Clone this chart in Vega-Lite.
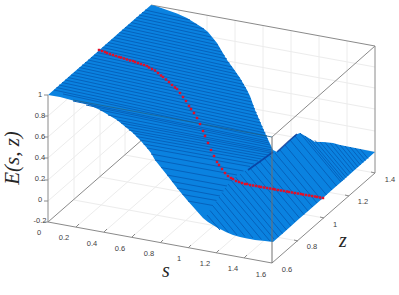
{"$schema":"https://vega.github.io/schema/vega-lite/v6.json","width":399,"height":295,"padding":0,"autosize":{"type":"none"},"background":"white","view":{"stroke":null},
"datasets":{
"grid":[
{"u":76,"v":227,"u2":179,"v2":137},{"u":104,"v":232,"u2":207,"v2":142},{"u":132,"v":237,"u2":235,"v2":147},{"u":160,"v":243,"u2":263,"v2":153},{"u":188,"v":248,"u2":291,"v2":158},{"u":216,"v":253,"u2":319,"v2":163},{"u":244,"v":258,"u2":347,"v2":168},
{"u":74,"v":200,"u2":298,"v2":241},{"u":100,"v":177,"u2":324,"v2":218},{"u":125,"v":155,"u2":349,"v2":196},{"u":151,"v":132,"u2":375,"v2":173},
{"u":74,"v":200,"u2":74,"v2":73},{"u":100,"v":177,"u2":100,"v2":50},{"u":125,"v":155,"u2":125,"v2":28},
{"u":48,"v":201,"u2":151,"v2":111},{"u":48,"v":180,"u2":151,"v2":90},{"u":48,"v":158,"u2":151,"v2":68},{"u":48,"v":137,"u2":151,"v2":47},{"u":48,"v":116,"u2":151,"v2":26},
{"u":179,"v":137,"u2":179,"v2":10},{"u":207,"v":142,"u2":207,"v2":15},{"u":235,"v":147,"u2":235,"v2":20},{"u":263,"v":153,"u2":263,"v2":26},{"u":291,"v":158,"u2":291,"v2":31},{"u":319,"v":163,"u2":319,"v2":36},{"u":347,"v":168,"u2":347,"v2":41},
{"u":151,"v":111,"u2":375,"v2":152},{"u":151,"v":90,"u2":375,"v2":131},{"u":151,"v":68,"u2":375,"v2":109},{"u":151,"v":47,"u2":375,"v2":88},{"u":151,"v":26,"u2":375,"v2":67}
],
"boxback":[
{"u":48,"v":222,"u2":151,"v2":132},{"u":151,"v":5,"u2":375,"v2":46},{"u":375,"v":46,"u2":375,"v2":173},{"u":375,"v":46,"u2":272,"v2":137},{"u":48,"v":95,"u2":48,"v2":222},{"u":48,"v":222,"u2":272,"v2":263},{"u":272,"v":263,"u2":375,"v2":173},
{"u":48,"v":95,"u2":44,"v2":95},{"u":48,"v":116,"u2":44,"v2":116},{"u":48,"v":137,"u2":44,"v2":137},{"u":48,"v":158,"u2":44,"v2":158},{"u":48,"v":180,"u2":44,"v2":180},{"u":48,"v":201,"u2":44,"v2":201},{"u":48,"v":222,"u2":44,"v2":222},
{"u":76,"v":227,"u2":79,"v2":224},{"u":104,"v":232,"u2":107,"v2":229},{"u":132,"v":237,"u2":135,"v2":234},{"u":160,"v":243,"u2":163,"v2":240},{"u":188,"v":248,"u2":191,"v2":245},{"u":216,"v":253,"u2":219,"v2":250},{"u":244,"v":258,"u2":247,"v2":255},
{"u":298,"v":241,"u2":294,"v2":240},{"u":324,"v":218,"u2":320,"v2":217},{"u":349,"v":196,"u2":345,"v2":195},{"u":375,"v":173,"u2":371,"v2":172}
],
"sheet":[
{"u":48,"top":95,"bottom":95},{"u":60,"top":84.5,"bottom":97},{"u":73,"top":73,"bottom":100.5},{"u":87,"top":61,"bottom":104},{"u":100,"top":49.5,"bottom":110},{"u":117,"top":34.5,"bottom":120},{"u":133,"top":20.5,"bottom":133},{"u":140,"top":14.5,"bottom":140},{"u":147,"top":8.5,"bottom":148},{"u":151,"top":5,"bottom":153},{"u":155,"top":5.8,"bottom":160},{"u":167,"top":10,"bottom":175},{"u":177,"top":13.5,"bottom":188},{"u":187,"top":18,"bottom":200},{"u":203,"top":28,"bottom":218},{"u":208,"top":32,"bottom":222},{"u":217,"top":43,"bottom":227.5},{"u":227,"top":60,"bottom":232.5},{"u":233,"top":68,"bottom":235},{"u":240,"top":78,"bottom":237},{"u":247,"top":90,"bottom":238.5},{"u":250,"top":96,"bottom":239},{"u":255,"top":110,"bottom":240},{"u":265,"top":133,"bottom":241},{"u":273,"top":150,"bottom":242},{"u":277,"top":152,"bottom":238.5},{"u":285,"top":145,"bottom":231.4},{"u":295,"top":135,"bottom":222.6},{"u":300,"top":133,"bottom":218},{"u":307,"top":137,"bottom":212},{"u":315,"top":142,"bottom":205},{"u":323,"top":142,"bottom":198},{"u":333,"top":143,"bottom":189},{"u":340,"top":145,"bottom":183},{"u":375,"top":152,"bottom":152}
],
"stripes":[
{"u":145,"v":10,"u2":190,"v2":20},{"u":139,"v":15,"u2":204,"v2":29},{"u":134,"v":20,"u2":211,"v2":37},{"u":128,"v":25,"u2":218,"v2":45},{"u":122,"v":30,"u2":222,"v2":52},{"u":117,"v":35,"u2":227,"v2":59},{"u":111,"v":40,"u2":232,"v2":67},{"u":105,"v":45,"u2":237,"v2":74},{"u":100,"v":50,"u2":242,"v2":81},{"u":94,"v":55,"u2":246,"v2":88},{"u":88,"v":60,"u2":249,"v2":95},{"u":82,"v":65,"u2":252,"v2":102},{"u":77,"v":70,"u2":255,"v2":109},{"u":71,"v":75,"u2":258,"v2":116},{"u":65,"v":80,"u2":261,"v2":123},{"u":59,"v":85,"u2":264,"v2":130},{"u":54,"v":90,"u2":267,"v2":136},{"u":73,"v":101,"u2":268,"v2":141},{"u":100,"v":110,"u2":270,"v2":145},{"u":117,"v":120,"u2":272,"v2":150},{"u":125,"v":126.5,"u2":271,"v2":153},{"u":133,"v":133,"u2":265,"v2":157},{"u":140,"v":140,"u2":258,"v2":161},{"u":147,"v":148,"u2":250,"v2":166.5},{"u":155,"v":160,"u2":237,"v2":175},{"u":167,"v":175,"u2":227,"v2":186},{"u":177,"v":188,"u2":220,"v2":196},{"u":188,"v":201,"u2":213,"v2":205.5},
{"u":142,"v":12.5,"u2":197,"v2":24.5},{"u":136.5,"v":17.5,"u2":207.5,"v2":33},{"u":131,"v":22.5,"u2":214.5,"v2":41},{"u":125,"v":27.5,"u2":220,"v2":48.5},{"u":119.5,"v":32.5,"u2":224.5,"v2":55.5},{"u":114,"v":37.5,"u2":229.5,"v2":63},{"u":108,"v":42.5,"u2":234.5,"v2":70.5},{"u":102.5,"v":47.5,"u2":239.5,"v2":77.5},{"u":97,"v":52.5,"u2":244,"v2":84.5},{"u":91,"v":57.5,"u2":247.5,"v2":91.5},{"u":85,"v":62.5,"u2":250.5,"v2":98.5},{"u":79.5,"v":67.5,"u2":253.5,"v2":105.5},{"u":74,"v":72.5,"u2":256.5,"v2":112.5},{"u":68,"v":77.5,"u2":259.5,"v2":119.5},{"u":62,"v":82.5,"u2":262.5,"v2":126.5},{"u":56.5,"v":87.5,"u2":265.5,"v2":133},{"u":63,"v":94,"u2":267.5,"v2":138.5},{"u":86,"v":105,"u2":269,"v2":143},{"u":108,"v":115,"u2":271,"v2":147.5},{"u":121,"v":123,"u2":271.5,"v2":151.5},{"u":129,"v":130,"u2":268,"v2":155},{"u":136.5,"v":136.5,"u2":261.5,"v2":159},{"u":143.5,"v":144,"u2":254,"v2":164},{"u":151,"v":154,"u2":243.5,"v2":171},{"u":161,"v":167.5,"u2":232,"v2":180.5},{"u":172,"v":181.5,"u2":223.5,"v2":191},{"u":182.5,"v":194.5,"u2":216.5,"v2":200.5},
{"u":280,"v":150,"u2":321,"v2":199.5},{"u":290,"v":140,"u2":332,"v2":190},{"u":300,"v":133,"u2":341,"v2":182},{"u":310,"v":139,"u2":344,"v2":179.5},{"u":320,"v":142,"u2":348,"v2":175.5},{"u":330,"v":143,"u2":353,"v2":171},{"u":340,"v":145,"u2":358,"v2":167},{"u":350,"v":147,"u2":363,"v2":162.5},{"u":360,"v":149,"u2":368,"v2":158.5},{"u":270,"v":156,"u2":312.5,"v2":207},{"u":260,"v":162,"u2":304,"v2":214.5},{"u":250,"v":168,"u2":295,"v2":222},{"u":240,"v":174,"u2":286.5,"v2":230},{"u":231,"v":180,"u2":278.5,"v2":237},{"u":225,"v":188,"u2":270,"v2":241},{"u":219,"v":197,"u2":253,"v2":238},{"u":213,"v":206,"u2":237,"v2":235},{"u":207,"v":215,"u2":220,"v2":230},
{"u":285,"v":145,"u2":326.5,"v2":195},{"u":295,"v":136,"u2":336.5,"v2":186},{"u":305,"v":136,"u2":342.5,"v2":181},{"u":315,"v":140.5,"u2":346,"v2":177.5},{"u":325,"v":142.5,"u2":350.5,"v2":173},{"u":335,"v":144,"u2":355.5,"v2":169},{"u":345,"v":146,"u2":360.5,"v2":165},{"u":355,"v":148,"u2":365.5,"v2":160.5},{"u":275,"v":153,"u2":317,"v2":203},{"u":265,"v":159,"u2":308,"v2":211},{"u":255,"v":165,"u2":299.5,"v2":218},{"u":245,"v":171,"u2":291,"v2":226},{"u":235.5,"v":177,"u2":282.5,"v2":233.5},{"u":228,"v":184,"u2":274,"v2":239},{"u":222,"v":192.5,"u2":261.5,"v2":239.5},{"u":216,"v":201.5,"u2":245,"v2":236.5},{"u":210,"v":210.5,"u2":228.5,"v2":232.5}
],
"crease":[
{"u":273,"v":152,"u2":262,"v2":160},{"u":262,"v":160,"u2":248,"v2":170},{"u":277,"v":152,"u2":290,"v2":140},{"u":290,"v":140,"u2":297,"v2":134}
],
"boxfront":[{"u":73,"v":100,"u2":272,"v2":137}],
"boxvert":[{"u":272,"v":137,"u2":272,"v2":263}],
"curve":[
{"u":99,"v":50},{"u":102,"v":51},{"u":105,"v":52},{"u":107,"v":53},{"u":110,"v":54},{"u":113,"v":55},{"u":116,"v":56},{"u":119,"v":57},{"u":121,"v":57.5},{"u":124,"v":58.5},{"u":127,"v":59.5},{"u":130,"v":60.5},{"u":133,"v":61},{"u":135,"v":62},{"u":138,"v":63},{"u":141,"v":64},{"u":144,"v":65},{"u":147,"v":66},{"u":149,"v":67.5},{"u":152,"v":69},{"u":155,"v":70.5},{"u":158,"v":73},{"u":161,"v":75.5},{"u":163,"v":77},{"u":166,"v":79.5},{"u":169,"v":82},{"u":172,"v":85},{"u":175,"v":87.5},{"u":177,"v":89},{"u":180,"v":93},{"u":183,"v":97},{"u":186,"v":101},{"u":189,"v":106},{"u":191,"v":109},{"u":194,"v":113},{"u":197,"v":118},{"u":200,"v":124},{"u":203,"v":131},{"u":205,"v":136},{"u":208,"v":143},{"u":211,"v":150},{"u":214,"v":156},{"u":217,"v":162},{"u":219,"v":165},{"u":222,"v":169},{"u":225,"v":173},{"u":228,"v":176},{"u":231,"v":178},{"u":233,"v":179},{"u":236,"v":181},{"u":239,"v":182},{"u":242,"v":183},{"u":245,"v":184},{"u":247,"v":184},{"u":250,"v":185},{"u":253,"v":185.5},{"u":256,"v":186},{"u":259,"v":186.5},{"u":261,"v":187},{"u":264,"v":187.5},{"u":267,"v":188},{"u":270,"v":188.5},{"u":273,"v":189},{"u":275,"v":189.5},{"u":278,"v":190},{"u":281,"v":190.5},{"u":284,"v":191},{"u":287,"v":191.5},{"u":289,"v":192},{"u":292,"v":192.5},{"u":295,"v":193},{"u":298,"v":193.5},{"u":301,"v":194},{"u":303,"v":194.5},{"u":306,"v":195},{"u":309,"v":195.5},{"u":312,"v":196},{"u":315,"v":196.5},{"u":317,"v":197},{"u":320,"v":197.5},{"u":323,"v":198}
],
"ticks":[
{"u":40,"v":95,"t":"1","a":"right"},{"u":40,"v":116,"t":"0.8","a":"right"},{"u":40,"v":137,"t":"0.6","a":"right"},{"u":40,"v":158,"t":"0.4","a":"right"},{"u":40,"v":179,"t":"0.2","a":"right"},{"u":40,"v":200,"t":"0","a":"right"},{"u":40,"v":221,"t":"-0.2","a":"right"},
{"u":39,"v":233,"t":"0","a":"center"},{"u":64,"v":238,"t":"0.2","a":"center"},{"u":92,"v":244,"t":"0.4","a":"center"},{"u":120,"v":249,"t":"0.6","a":"center"},{"u":149,"v":254,"t":"0.8","a":"center"},{"u":179,"v":259,"t":"1","a":"center"},{"u":205,"v":264,"t":"1.2","a":"center"},{"u":233,"v":269,"t":"1.4","a":"center"},{"u":261,"v":275,"t":"1.6","a":"center"},
{"u":287,"v":270,"t":"0.6","a":"center"},{"u":312,"v":247,"t":"0.8","a":"center"},{"u":335,"v":225,"t":"1","a":"center"},{"u":363,"v":202,"t":"1.2","a":"center"},{"u":390,"v":180,"t":"1.4","a":"center"}
],
"titles":[{"u":166,"v":271,"t":"s"},{"u":343,"v":241,"t":"z"}],
"ytitle":[{"u":13,"v":158,"t":"E(s, z)"}]
},
"encoding":{
"x":{"field":"u","type":"quantitative","scale":{"domain":[0,399],"nice":false,"zero":false},"axis":null},
"y":{"field":"v","type":"quantitative","scale":{"domain":[295,0],"nice":false,"zero":false},"axis":null}
},
"layer":[
{"data":{"name":"grid"},"mark":{"type":"rule","stroke":"#ececec","strokeWidth":1},"encoding":{"x2":{"field":"u2"},"y2":{"field":"v2"}}},
{"data":{"name":"boxback"},"mark":{"type":"rule","stroke":"#8a8a8a","strokeWidth":1},"encoding":{"x2":{"field":"u2"},"y2":{"field":"v2"}}},
{"data":{"name":"sheet"},"mark":{"type":"area","fill":"#0a82e0","interpolate":"linear"},"encoding":{"y":{"field":"top","type":"quantitative"},"y2":{"field":"bottom"}}},
{"data":{"name":"stripes"},"mark":{"type":"rule","stroke":"#0662bc","strokeWidth":1},"encoding":{"x2":{"field":"u2"},"y2":{"field":"v2"}}},
{"data":{"name":"crease"},"mark":{"type":"rule","stroke":"#0a3c9c","strokeWidth":1.6,"opacity":0.85},"encoding":{"x2":{"field":"u2"},"y2":{"field":"v2"}}},
{"data":{"name":"boxfront"},"mark":{"type":"rule","stroke":"#1f5f88","strokeWidth":0.8},"encoding":{"x2":{"field":"u2"},"y2":{"field":"v2"}}},
{"data":{"name":"boxvert"},"mark":{"type":"rule","stroke":"#707070","strokeWidth":1},"encoding":{"x2":{"field":"u2"},"y2":{"field":"v2"}}},
{"data":{"name":"curve"},"mark":{"type":"point","shape":"square","filled":true,"fill":"#e0102a","size":6,"opacity":1,"stroke":null}},
{"data":{"name":"ticks"},"mark":{"type":"text","font":"Liberation Sans","fontSize":7.5,"fill":"#404040","baseline":"middle"},"encoding":{"text":{"field":"t"},"align":{"field":"a","type":"nominal","scale":null}}},
{"data":{"name":"titles"},"mark":{"type":"text","font":"Liberation Serif","fontStyle":"italic","fontSize":20,"fill":"#262626","baseline":"middle","align":"center"},"encoding":{"text":{"field":"t"}}},
{"data":{"name":"ytitle"},"mark":{"type":"text","font":"Liberation Serif","fontStyle":"italic","fontSize":21,"fill":"#262626","baseline":"middle","align":"center","angle":270},"encoding":{"text":{"field":"t"}}}
]}
